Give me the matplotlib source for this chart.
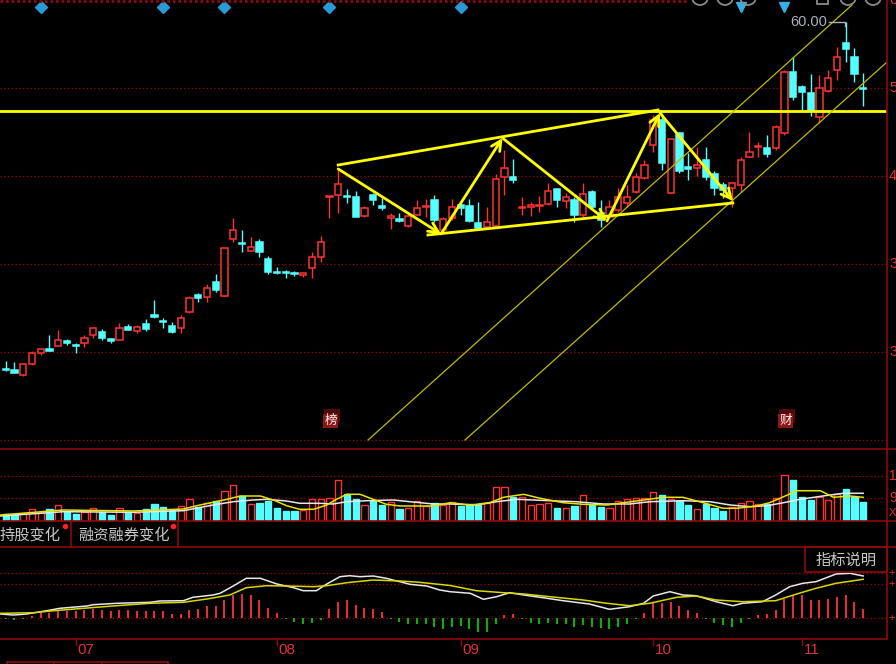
"""Candlestick screen (price / volume / MACD) rebuilt with matplotlib."""

import matplotlib
matplotlib.use("Agg")
import matplotlib.pyplot as plt
from matplotlib.patches import Rectangle, Circle

W, H = 896, 664
BG = "#000000"
RED = "#ff3232"
CYAN = "#54ffff"
GREEN = "#00c800"
YELLOW = "#ffff00"
OLIVE = "#bcbc00"
GRID = "#a00000"
FRAME = "#8c0a0a"
AXTXT = "#e03434"
GREY = "#a9b2bb"
TABTXT = "#c8c8c8"

# daily bars, oldest first
opens = [28.41, 28.36, 27.91, 28.91, 29.94, 30.25, 30.55, 31.03, 30.64, 30.79,
         31.57, 31.85, 31.18, 31.09, 32.30, 31.88, 32.55, 33.36, 32.85, 32.39,
         32.15, 33.61, 35.18, 34.97, 36.39, 35.09, 40.25, 39.94, 39.21, 40.03,
         38.48, 37.30, 37.30, 37.21, 37.00, 37.61, 38.66, 44.09, 44.27, 44.21,
         44.12, 42.36, 44.27, 43.27, 42.21, 42.09, 41.45, 42.45, 43.15, 43.82,
         41.09, 42.15, 43.36, 43.30, 41.75, 41.34, 41.45, 45.88, 45.94, 43.06,
         43.21, 43.27, 43.43, 44.82, 43.75, 43.82, 42.45, 44.57, 42.61, 42.30,
         42.91, 43.52, 44.57, 45.79, 48.82, 51.09, 44.43, 49.94, 46.79, 46.70,
         47.45, 46.18, 45.18, 44.88, 45.18, 47.75, 48.61, 48.57, 48.52, 49.94,
         55.43, 54.12, 53.57, 51.39, 53.75, 55.64, 58.12, 56.85, 53.97]
highs = [29.21, 29.12, 28.97, 30.12, 30.39, 31.55, 32.00, 31.21, 30.79, 31.52,
         32.30, 32.06, 31.23, 32.66, 32.55, 32.43, 33.00, 34.73, 33.06, 32.75,
         33.36, 35.12, 35.34, 36.18, 37.09, 39.43, 42.21, 41.09, 40.43, 40.27,
         38.73, 37.75, 37.45, 37.36, 37.21, 39.12, 40.55, 44.21, 46.64, 44.79,
         44.64, 43.27, 44.45, 44.03, 42.66, 42.66, 42.61, 43.82, 43.91, 44.27,
         42.30, 43.91, 43.66, 43.91, 43.66, 43.21, 46.18, 48.36, 47.52, 44.06,
         43.64, 44.21, 45.39, 44.82, 44.43, 44.12, 45.39, 44.73, 43.82, 43.82,
         44.88, 45.18, 46.25, 47.45, 51.55, 51.70, 49.34, 50.03, 48.06, 48.66,
         48.66, 46.48, 45.48, 45.48, 47.75, 50.03, 49.12, 49.73, 50.64, 55.64,
         56.79, 54.27, 55.27, 55.18, 55.64, 57.75, 60.00, 57.61, 55.39]
lows = [28.23, 28.05, 27.86, 28.82, 29.73, 30.09, 30.55, 30.64, 29.94, 30.43,
        31.25, 31.09, 30.79, 31.09, 32.00, 31.75, 31.94, 33.06, 32.15, 31.70,
        31.75, 33.52, 34.57, 34.57, 35.48, 35.09, 40.03, 39.12, 39.21, 38.61,
        37.09, 37.09, 36.70, 36.91, 36.79, 36.70, 38.21, 42.15, 42.66, 43.52,
        42.25, 42.30, 43.36, 42.91, 41.21, 41.85, 41.34, 42.45, 42.30, 41.85,
        40.94, 42.00, 42.45, 41.85, 41.09, 41.25, 41.39, 44.27, 45.39, 42.45,
        42.36, 42.75, 43.36, 43.15, 43.06, 41.85, 42.30, 42.97, 41.39, 42.15,
        42.75, 43.21, 44.43, 45.70, 48.21, 46.55, 44.43, 46.25, 45.64, 46.00,
        45.64, 44.27, 43.97, 43.21, 44.57, 47.75, 47.75, 47.75, 48.36, 49.73,
        52.91, 52.00, 51.45, 50.79, 53.66, 54.73, 56.39, 54.57, 52.36]
closes = [28.32, 28.06, 28.88, 29.94, 30.27, 30.12, 31.06, 30.85, 30.55, 31.27,
          32.15, 31.25, 30.97, 32.15, 32.00, 32.30, 32.06, 33.15, 32.73, 31.85,
          33.06, 34.88, 34.88, 35.79, 35.64, 39.43, 41.09, 39.82, 39.57, 39.06,
          37.30, 37.21, 37.15, 37.09, 37.21, 38.66, 40.03, 44.18, 45.25, 44.06,
          42.30, 43.12, 43.82, 43.12, 42.36, 41.94, 42.36, 43.12, 43.27, 42.00,
          42.09, 43.21, 43.06, 41.94, 41.25, 41.85, 45.73, 46.75, 45.64, 43.21,
          43.36, 43.36, 44.66, 43.82, 44.12, 42.45, 44.34, 43.15, 42.00, 43.21,
          44.12, 44.12, 45.94, 47.00, 51.09, 47.15, 49.34, 46.48, 46.66, 47.00,
          45.94, 44.88, 44.73, 45.39, 47.45, 48.21, 48.73, 48.00, 50.43, 55.48,
          53.15, 53.61, 51.91, 53.97, 54.94, 56.85, 57.52, 55.27, 53.88]
volumes = [6.5, 6.5, 7.2, 11.2, 8.8, 11.5, 15.2, 8.8, 6.5, 8.8,
           12.5, 8.8, 5.2, 12.5, 8.8, 7.2, 11.5, 16.5, 13.8, 10.5,
           14.5, 21.2, 13.8, 17.8, 19.8, 29.8, 35.2, 24.5, 16.2, 17.8,
           19.8, 12.2, 9.2, 9.2, 10.5, 21.2, 21.2, 22.5, 40.2, 26.2,
           21.2, 15.2, 19.5, 15.2, 18.5, 11.5, 12.5, 19.2, 14.5, 17.8,
           15.8, 18.8, 14.5, 16.2, 15.2, 17.8, 33.8, 33.8, 23.2, 23.2,
           15.2, 16.5, 17.8, 12.8, 12.8, 14.8, 25.2, 15.5, 13.8, 12.5,
           19.8, 21.2, 22.8, 22.2, 28.8, 25.2, 21.2, 19.8, 15.2, 11.5,
           16.2, 12.8, 9.5, 13.8, 17.2, 19.8, 16.2, 16.5, 22.5, 45.2,
           40.2, 23.8, 20.2, 23.8, 20.5, 26.2, 31.2, 23.2, 18.2]
macd_hist = [-1.0, -1.7, -0.7, 2.3, 5.0, 5.7, 7.7, 7.7, 7.7, 8.3,
             9.0, 8.3, 7.0, 8.3, 8.3, 7.0, 7.0, 7.0, 7.0, 4.3,
             4.3, 8.3, 9.3, 12.3, 12.3, 18.3, 23.0, 24.3, 23.3, 18.3,
             10.7, 5.7, -0.7, -3.3, -5.7, -4.3, -1.7, 9.3, 16.7, 18.3,
             13.3, 10.7, 9.3, 6.7, -0.5, -3.3, -5.7, -5.7, -5.7, -8.3,
             -11.0, -9.0, -7.7, -11.0, -13.3, -13.3, -5.7, 3.3, 4.3, -1.0,
             -4.3, -5.7, -4.3, -5.7, -5.7, -8.3, -6.7, -8.3, -10.0, -10.7,
             -8.3, -5.7, -0.7, 5.7, 15.0, 15.0, 16.7, 12.3, 8.3, 5.7,
             -0.5, -4.3, -6.7, -8.3, -4.3, -0.7, 3.3, 4.3, 8.3, 19.0,
             22.3, 23.3, 18.3, 18.3, 19.3, 21.7, 23.3, 16.7, 9.3]

# moving-average lines (bar index, value)
vol_ma5_idx = [-0.6, 6.6, 14.6, 20.3, 22.2, 25.3, 26.8, 29.1, 30.6, 32.1, 33.6, 35.2,
               36.7, 37.8, 39.0, 40.5, 42.0, 43.5, 45.1, 47.3, 48.9, 50.8, 53.1, 55.3,
               56.9, 59.2, 61.1, 63.7, 66.0, 68.7, 70.6, 72.9, 75.2, 77.4, 79.7, 82.0,
               83.5, 85.8, 87.3, 88.9, 90.4, 93.1, 94.6, 96.5, 98.0]
vol_ma5 = [5.5, 10.5, 9.5, 11.5, 15.5, 21.2, 24.5, 24.5, 20.5, 14.8, 11.2, 11.2,
           15.5, 21.2, 26.2, 26.2, 21.2, 16.2, 14.5, 14.5, 14.5, 17.8, 15.5, 17.8,
           23.2, 26.2, 22.2, 17.8, 16.2, 15.5, 17.8, 20.5, 23.2, 23.2, 17.8, 12.2,
           12.2, 14.5, 17.8, 23.8, 29.8, 29.8, 23.2, 24.5, 23.2]
vol_ma10_idx = [-0.6, 6.6, 14.6, 20.3, 23.7, 26.0, 28.3, 29.8, 32.1, 33.6, 35.9, 37.4,
                39.0, 41.3, 44.3, 46.2, 48.9, 50.8, 53.8, 56.1, 58.4, 62.2, 65.2, 68.3,
                71.3, 73.6, 77.4, 80.5, 82.8, 85.1, 87.0, 88.9, 90.8, 93.4, 95.7, 98.0]
vol_ma10 = [4.5, 8.8, 8.2, 9.8, 15.5, 18.8, 20.5, 21.2, 19.5, 17.2, 17.2, 16.5,
            18.8, 19.8, 20.5, 18.8, 16.5, 16.5, 15.5, 18.8, 21.2, 19.8, 18.8, 16.5,
            16.5, 18.8, 19.8, 18.8, 15.5, 13.8, 14.8, 17.8, 21.2, 24.5, 27.2, 27.2]
dif_idx = [-0.6, 0.9, 2.4, 4.7, 6.2, 9.3, 10.0, 12.7, 16.5, 17.6, 20.3, 21.4, 23.7,
           24.5, 26.0, 27.5, 29.1, 31.0, 32.9, 34.0, 35.5, 36.7, 38.2, 39.3, 40.5,
           42.0, 43.5, 46.2, 48.1, 49.6, 50.8, 53.1, 54.6, 56.1, 57.6, 59.2, 61.4,
           63.7, 66.7, 69.0, 71.3, 72.9, 74.0, 75.9, 77.4, 78.9, 81.2, 83.1, 84.2,
           86.5, 88.0, 89.6, 91.1, 92.6, 94.9, 96.5, 98.0]
dif = [4.3, 3.3, 4.3, 7.6, 10.0, 12.3, 13.6, 15.0, 16.0, 17.3, 17.6, 21.0, 23.3,
       25.0, 32.3, 40.0, 40.0, 34.3, 30.6, 27.6, 27.6, 34.3, 41.6, 42.6, 41.6,
       42.3, 40.0, 34.0, 32.3, 28.3, 26.6, 25.0, 19.0, 21.6, 25.6, 23.3, 20.6,
       17.6, 14.3, 9.0, 11.6, 15.0, 22.3, 26.6, 23.3, 22.6, 16.6, 12.6, 15.0,
       16.6, 23.3, 31.6, 35.0, 36.6, 44.3, 45.0, 42.3]
dea_idx = [-0.6, 3.2, 5.1, 8.9, 12.7, 16.5, 20.3, 23.0, 25.6, 27.5, 29.8, 32.1,
           35.2, 36.7, 39.0, 42.0, 45.1, 47.3, 50.8, 53.8, 56.9, 59.2, 62.2, 66.0,
           68.7, 71.3, 73.6, 76.7, 78.9, 81.2, 84.2, 88.0, 90.4, 92.6, 94.9, 98.0]
dea = [5.0, 5.6, 7.3, 10.0, 12.6, 15.0, 16.0, 19.3, 23.3, 30.6, 32.6, 32.3,
       31.6, 32.6, 35.6, 38.3, 37.3, 36.0, 32.8, 27.6, 25.6, 24.3, 21.6, 18.3,
       15.0, 12.6, 15.0, 21.0, 22.3, 18.3, 16.6, 17.6, 24.3, 30.0, 35.0, 39.0]

# hand-drawn analysis lines (bar index, price)
zigzag_idx = [38.0, 49.75, 56.78, 68.72, 74.77, 83.12]
zigzag_price = [46.64, 40.73, 49.45, 41.91, 51.73, 43.73]
upper_idx = [38.0, 74.55]
upper_price = [47.0, 52.0]
lower_idx = [48.26, 83.1]
lower_price = [40.64, 43.55]
resist_price = 51.91
channel_a_idx = [41.41, 96.72]
channel_a_price = [22.0, 61.55]
channel_b_idx = [52.49, 100.72]
channel_b_price = [22.0, 56.36]

price_ticks = [62, 54, 46, 38, 30]
price_grid = [54, 46, 38, 30, 22]
vol_grid = [22.4, 44.8]
vol_labels = ["9000", "18000"]
macd_grid = [0, 34, 45]
month_idx = [8, 31, 52, 74, 91]
month_labels = ["07", "08", "09", "10", "11"]
diamond_idx = [4, 18, 25, 37, 52]
triangle_idx = [84, 89]
badge_idx = [37, 89]
badge_text = ["榜", "财"]
peak_idx = 96

XMIN, XMAX = -0.651, 100.72

plt.rcParams["font.family"] = ["Noto Sans CJK SC", "DejaVu Sans"]
fig = plt.figure(figsize=(W / 100, H / 100), dpi=100, facecolor=BG)


def px_rect(top, bottom, left=0, right=887):
    return [left / W, 1 - bottom / H, (right - left) / W, (bottom - top) / H]


ax = fig.add_axes(px_rect(0, 448.5))
axv = fig.add_axes(px_rect(448.5, 521))
axm = fig.add_axes(px_rect(547, 639))
for a in (ax, axv, axm):
    a.set_xlim(XMIN, XMAX)
    a.axis("off")
ax.set_ylim(62 - 448.5 / 11, 62)
axv.set_ylim(-0.5, 72)
axm.set_ylim(-20.7, 71.3)

dots = (0, (1, 2))
for p in price_grid:
    ax.axhline(p, color=GRID, lw=0.9, ls=dots, zorder=0)
for v in vol_grid:
    axv.axhline(v, color=GRID, lw=0.9, ls=dots, zorder=0)
for m in macd_grid:
    axm.axhline(m, color=GRID, lw=0.9, ls=dots, zorder=0)

# candles
body_w = 0.7
for i, (o, hi, lo, c) in enumerate(zip(opens, highs, lows, closes)):
    up = c >= o
    col = RED if up else CYAN
    ax.vlines(i, lo, hi, color=col, lw=1, zorder=2)
    h = max(abs(c - o), 0.09)
    ax.add_patch(Rectangle((i - body_w / 2, min(o, c)), body_w, h,
                           facecolor=BG if up else CYAN, edgecolor=col,
                           lw=1.1, zorder=3))

# volume bars
for i, (o, c, v) in enumerate(zip(opens, closes, volumes)):
    up = c >= o
    col = RED if up else CYAN
    axv.add_patch(Rectangle((i - 0.36, 0), 0.72, v, facecolor=BG if up else CYAN,
                            edgecolor=col, lw=1.0, zorder=2))
axv.plot(vol_ma10_idx, vol_ma10, color="#e8e8e8", lw=1.1, zorder=3)
axv.plot(vol_ma5_idx, vol_ma5, color="#e6e600", lw=1.1, zorder=4)

# MACD
for i, hv in enumerate(macd_hist):
    axm.vlines(i, 0, hv, color=RED if hv >= 0 else GREEN, lw=1.3, zorder=2)
axm.plot(dif_idx, dif, color="#e8e8e8", lw=1.1, zorder=3)
axm.plot(dea_idx, dea, color="#d8d800", lw=1.1, zorder=4)

# analysis lines
ax.axhline(resist_price, color=YELLOW, lw=2.0, zorder=4)
ax.plot(channel_a_idx, channel_a_price, color=OLIVE, lw=0.9, zorder=4)
ax.plot(channel_b_idx, channel_b_price, color=OLIVE, lw=0.9, zorder=4)
ax.plot(upper_idx, upper_price, color=YELLOW, lw=2.0, zorder=5)
ax.plot(lower_idx, lower_price, color=YELLOW, lw=2.0, zorder=5)
for k in range(len(zigzag_idx) - 1):
    ax.annotate("", xy=(zigzag_idx[k + 1], zigzag_price[k + 1]),
                xytext=(zigzag_idx[k], zigzag_price[k]),
                arrowprops=dict(arrowstyle="->,head_length=0.7,head_width=0.35",
                                color=YELLOW, lw=2.0, shrinkA=0, shrinkB=0),
                zorder=6)

# peak label
ax.text(peak_idx - 2.14, highs[peak_idx], "60.00", color=GREY, fontsize=10.5,
        family="Liberation Sans", ha="right", va="center", zorder=6)
ax.plot([peak_idx - 1.9, peak_idx - 0.05, peak_idx - 0.05],
        [highs[peak_idx], highs[peak_idx], highs[peak_idx] - 0.35],
        color=GREY, lw=1, zorder=6)

# event markers along the top and bottom of the price pane
top_tf = ax.get_xaxis_transform()
ax.plot(diamond_idx, [1 - 7 / 448.5] * len(diamond_idx), "D", color="#2a9ad4",
        ms=6.5, transform=top_tf, clip_on=False, zorder=6)
ax.plot(triangle_idx, [1 - 7 / 448.5] * len(triangle_idx), "v", color="#34b0e8",
        ms=7, transform=top_tf, clip_on=False, zorder=6)
for bi, txt in zip(badge_idx, badge_text):
    ax.add_patch(Rectangle((bi + 0.15 - 0.75, 0.0575), 1.75, 14 / 448.5,
                           transform=top_tf, facecolor="#4e0a0a", zorder=6))
    ax.add_patch(Rectangle((bi + 0.12 - 0.86, 0.0468), 1.72, 14 / 448.5,
                           transform=top_tf, facecolor="#8e1616", zorder=7))
    ax.text(bi + 0.12, 0.0468 + 7 / 448.5, txt, transform=top_tf, color="#f4f4f4",
            fontsize=9, ha="center", va="center", zorder=8)

# right-hand axis labels (mostly cut off by the window edge)
for p in price_ticks:
    ax.text(1 + 2 / 887, p, f"{p:.2f}", transform=ax.get_yaxis_transform(),
            color=AXTXT, fontsize=10.5, family="Liberation Sans", va="center",
            clip_on=False)
for v, lab in zip(vol_grid, vol_labels):
    axv.text(1 + 2 / 887, v, lab, transform=axv.get_yaxis_transform(),
             color=AXTXT, fontsize=10, family="Liberation Sans", va="center",
             clip_on=False)
axv.text(1 + 2 / 887, 8, "X100", transform=axv.get_yaxis_transform(),
         color=AXTXT, fontsize=8, family="Liberation Sans", va="center", clip_on=False)
for m in macd_grid:
    axm.text(1 + 1 / 887, m, "+", transform=axm.get_yaxis_transform(),
             color=AXTXT, fontsize=8, family="Liberation Sans", va="center",
             clip_on=False)

# month ticks under the MACD pane
xt = axm.get_xaxis_transform()
for mi, lab in zip(month_idx, month_labels):
    axm.plot([mi, mi], [0, -6 / 92], color=FRAME, lw=1, transform=xt, clip_on=False)
    axm.text(mi + 0.2, -11 / 92, lab, transform=xt, color=AXTXT, fontsize=11,
             family="Liberation Sans", ha="left", va="center", clip_on=False)

# window chrome in pixel space
ov = fig.add_axes([0, 0, 1, 1])
ov.set_xlim(0, W)
ov.set_ylim(H, 0)
ov.axis("off")
ov.patch.set_alpha(0)
ov.plot([0, 688], [1.2, 1.2], color=FRAME, lw=2, ls=(0, (1, 1)))
ov.plot([887, 887], [0, 639], color=FRAME, lw=1.2)
ov.plot([0, 896], [448.8, 448.8], color=FRAME, lw=1.2)
ov.plot([0, 896], [521, 521], color=FRAME, lw=1.2)
ov.plot([0, 896], [547, 547], color=FRAME, lw=1.2)
ov.plot([0, 887], [639, 639], color=FRAME, lw=1.2)
ov.plot([71, 71], [521, 547], color=FRAME, lw=1.2)
ov.plot([178, 178], [521, 547], color=FRAME, lw=1.2)
ov.text(0, 535, "持股变化", color=TABTXT, fontsize=11, va="center")
ov.text(78, 535, "融资融券变化", color=TABTXT, fontsize=11, va="center")
ov.plot([65, 173], [526, 526], "o", color="#ff2020", ms=3)
ov.add_patch(Rectangle((805, 547), 82, 25, fill=False, edgecolor=FRAME, lw=1.2))
ov.text(846, 560, "指标说明", color=TABTXT, fontsize=11, ha="center", va="center")
ov.plot([7, 168], [662, 662], color=FRAME, lw=1.2)
for x in (7, 54, 102, 168):
    ov.plot([x, x], [662, 664], color=FRAME, lw=1.2)
for cx in (700, 725, 748, 848, 873):
    ov.add_patch(Circle((cx, -3), 8, fill=False, edgecolor="#8a8a8a", lw=1.3))
ov.add_patch(Rectangle((817, -6), 11, 10, fill=False, edgecolor="#8a8a8a", lw=1.3))

fig.savefig("out.png", dpi=100, facecolor=BG)
